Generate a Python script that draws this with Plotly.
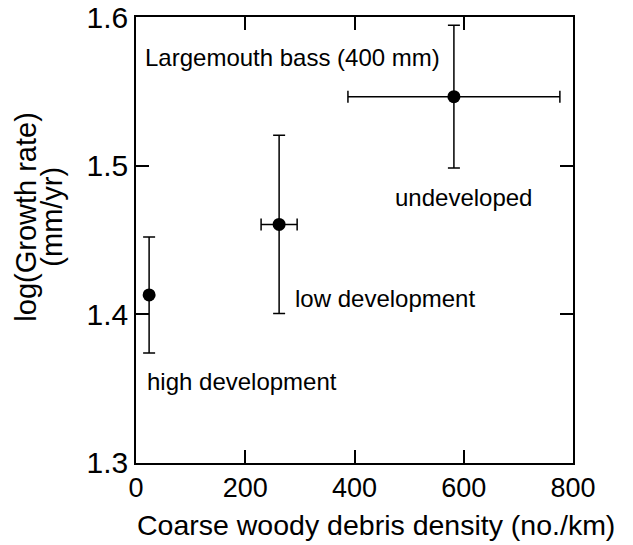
import plotly.graph_objects as go

# Data
categories = ["high development", "low development", "undeveloped"]
cwd_density = [24, 262, 582]          # no./km
cwd_err = [0, 33, 194]
log_growth = [1.413, 1.4605, 1.5465]  # log(mm/yr)
log_growth_err = [0.039, 0.06, 0.048]
x_ticks = [0, 200, 400, 600, 800]
y_ticks = [1.3, 1.4, 1.5, 1.6]

FONT = "Liberation Sans, Arial, Helvetica, sans-serif"

fig = go.Figure()
fig.add_trace(go.Scatter(
    x=cwd_density, y=log_growth, mode="markers",
    marker=dict(color="black", size=13),
    error_x=dict(type="data", array=cwd_err, color="black", thickness=1.5, width=6),
    error_y=dict(type="data", array=log_growth_err, color="black", thickness=1.5, width=6),
    showlegend=False, hoverinfo="x+y",
))

axis_common = dict(
    showline=True, linecolor="black", linewidth=1.6, mirror="ticks",
    ticks="inside", ticklen=13, tickwidth=1.5, tickcolor="black",
    showgrid=False, zeroline=False, ticklabeloverflow="allow", automargin=False,
)
fig.update_xaxes(range=[0, 800.01], tickvals=x_ticks, ticktext=[str(v) for v in x_ticks],
                 tickfont=dict(family=FONT, size=27, color="black"), **axis_common)
fig.update_yaxes(range=[1.2999, 1.6001], tickvals=y_ticks, ticktext=[f"{v:.1f}" for v in y_ticks],
                 tickfont=dict(family=FONT, size=30, color="black"), **axis_common)

ann_font = dict(family=FONT, size=24, color="black")
labels = [
    ("Largemouth bass (400 mm)", 12.8, 1.5726),
    ("undeveloped", 470.5, 1.4783),
    ("low development", 287.4, 1.4108),
    ("high development", 16.5, 1.3547),
]
for text, ax_, ay_ in labels:
    fig.add_annotation(x=ax_, y=ay_, text=text, xref="x", yref="y", showarrow=False,
                       xanchor="left", yanchor="middle", font=ann_font)

fig.add_annotation(x=-0.002, y=-0.140, xref="paper", yref="paper", showarrow=False,
                   text="Coarse woody debris density (no./km)", xanchor="left", yanchor="middle",
                   font=dict(family=FONT, size=28.5, color="black"))
ytitle_font = dict(family=FONT, size=29, color="black")
fig.add_annotation(x=-0.2517, y=0.5523, xref="paper", yref="paper", showarrow=False,
                   text="log(Growth rate)", textangle=-90, xanchor="center", yanchor="middle",
                   font=ytitle_font)
fig.add_annotation(x=-0.1922, y=0.5523, xref="paper", yref="paper", showarrow=False,
                   text="(mm/yr)", textangle=-90, xanchor="center", yanchor="middle",
                   font=ytitle_font)

fig.update_layout(
    width=633, height=545,
    margin=dict(l=136, r=60, t=17, b=82, pad=0, autoexpand=False),
    paper_bgcolor="white", plot_bgcolor="white",
)

fig.write_html("out.html", config={"displayModeBar": False},
               post_script="document.body.style.margin='0';")
